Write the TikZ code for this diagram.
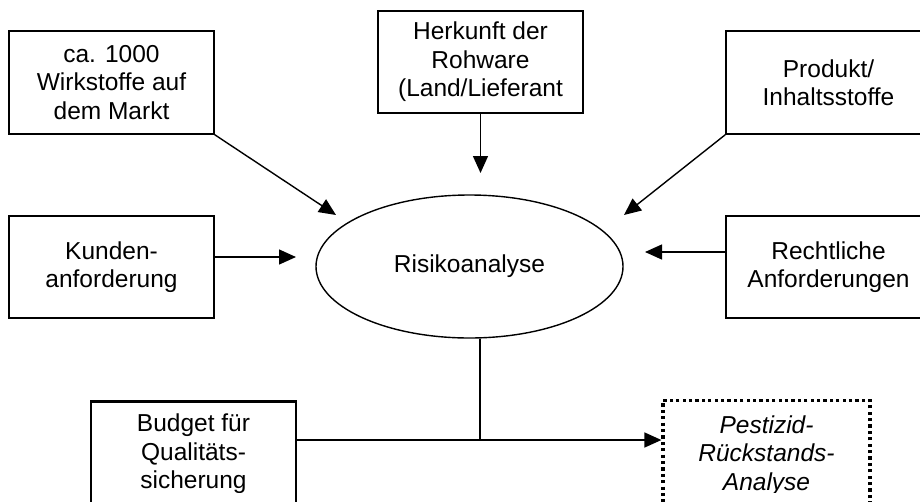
\documentclass[tikz,border=0pt]{standalone}
\usepackage{fontspec}
\setmainfont{Liberation Sans}
\usetikzlibrary{shapes.geometric,arrows.meta}
\begin{document}
\begin{tikzpicture}[x=1pt,y=-1pt,
  box/.style={draw,line width=1.5pt,minimum width=205pt,minimum height=103pt,inner sep=0pt,align=center,font=\fontsize{24.5}{28.5}\selectfont},
  txt/.style={align=center,inner sep=0pt,font=\fontsize{24.5}{28.5}\selectfont},
  arr/.style={line width=1.4pt,-{Triangle[length=17pt,width=15pt]}},
  con/.style={line width=1.4pt}]
\useasboundingbox (0,0) rectangle (920,501);
\clip (0,0) rectangle (920,501);
% boxes
\node[box] (wirk) at (111.5,82.5) {ca. 1000\\Wirkstoffe auf\\dem Markt};
\node[box,minimum height=102pt] (herk) at (480.5,62) {Herkunft der\\Rohware\\(Land/Lieferant};
\node[box] (prod) at (828.5,82.5) {Produkt/\\Inhaltsstoffe};
\node[box,minimum height=102pt] (kund) at (111.5,267) {Kunden-\\anforderung};
\node[box,minimum height=102pt] (recht) at (828.5,267) {Rechtliche\\Anforderungen};
\node[ellipse,draw,line width=1.4pt,minimum width=307pt,minimum height=143pt,txt] (risk) at (469.5,266.5) {Risikoanalyse};
\node[draw,line width=2.7pt,minimum width=205pt,minimum height=140pt,inner sep=0pt,anchor=north] (budget) at (193.5,400) {};
\node[draw,line width=3.2pt,dash pattern=on 3.2pt off 3.2pt,minimum width=207pt,minimum height=140pt,inner sep=0pt,anchor=north] (pest) at (766.5,399) {};
\begin{scope}
\clip (0,0) rectangle (920,492);
\node[txt,anchor=north] (budgettext) at (193.5,414) {Budget für\\Qualitäts-\\sicherung};
\node[txt,anchor=north,font=\fontsize{24.5}{28.5}\selectfont\itshape] (pesttext) at (766.5,415.5) {Pestizid-\\Rückstands-\\Analyse};
\end{scope}
% connector ends
\coordinate (wt) at (336,215);
\coordinate (ht) at (480.5,173);
\coordinate (prt) at (624,215);
\coordinate (kt) at (296,257);
\coordinate (rt) at (645,252);
\coordinate (junc) at (480,440);
% connectors
\draw[arr] (wirk.south east) -- (wt);
\draw[arr] (herk.south) -- (ht);
\draw[arr] (prod.south west) -- (prt);
\draw[arr] ([yshift=10pt]kund.east) -- (kt);
\draw[arr] ([yshift=15pt]recht.west) -- (rt);
\draw[con] (risk.south -| junc) -- (junc);
\draw[arr] (budget.east |- junc) -- (pest.west |- junc);
\end{tikzpicture}
\end{document}
